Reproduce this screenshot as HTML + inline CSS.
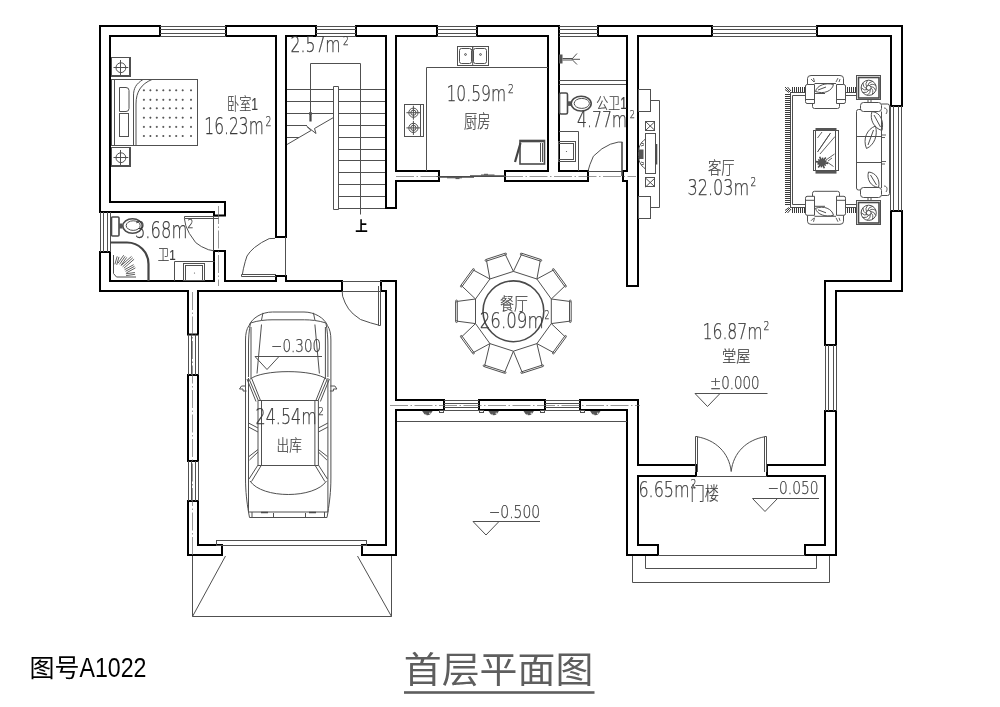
<!DOCTYPE html>
<html lang="zh-CN">
<head>
<meta charset="utf-8">
<title>首层平面图 图号A1022</title>
<style>
html,body{margin:0;padding:0;background:#fff;}
body{width:1000px;height:707px;overflow:hidden;}
svg{display:block;}
.w{fill:none;stroke:#000;stroke-width:2;stroke-linecap:square;stroke-linejoin:miter;}
.t{fill:none;stroke:#505050;stroke-width:1;}
.t2{fill:none;stroke:#4a4a4a;stroke-width:1.6;}
.h{fill:none;stroke:#555;stroke-width:0.7;}
.fr{fill:none;stroke:#3a3a3a;stroke-width:1;}
.h2{fill:none;stroke:#444;stroke-width:0.85;}
.t3{fill:none;stroke:#444;stroke-width:2.2;}
.f{fill:#555;stroke:none;}
.cl{fill:none;stroke:#6a6a6a;stroke-width:0.7;stroke-dasharray:18 2.5 1.5 2.5;}
svg{filter:grayscale(1);}
text{font-family:"Liberation Sans","Noto Sans CJK SC",sans-serif;}
.lb{fill:#3c3c3c;stroke:#3c3c3c;stroke-width:0.25;font-family:"DejaVu Sans","Noto Sans CJK SC",sans-serif;font-weight:200;}
.cj{fill:#3c3c3c;stroke:#3c3c3c;stroke-width:0.2;font-family:"Liberation Sans","Noto Sans CJK SC",sans-serif;font-weight:300;}
.bk{fill:#000;font-family:"Liberation Sans","Noto Sans CJK SC",sans-serif;font-weight:700;}
.bk2{fill:#000;font-family:"Liberation Sans","Noto Sans CJK SC",sans-serif;font-weight:400;}
.ul{fill:#5e5e5e;stroke:none;}
.tt{fill:#5e5e5e;font-family:"Liberation Sans","Noto Sans CJK SC",sans-serif;font-weight:400;}
</style>
</head>
<body>
<svg width="1000" height="707" viewBox="0 0 1000 707">
<rect x="0" y="0" width="1000" height="707" fill="#fff"/>
<g id="walls">
<path class="w" d="M100 212 L100 26 L160 26 L160 36 L110 36 L110 202 L225 202 L225 215.5 L214 215.5 L214 212 L100 212"/>
<path class="w" d="M226 36 L226 26 L316 26 L316 36 L286 36 L286 237 L276 237 L276 36 L226 36"/>
<path class="w" d="M356 36 L356 26 L437 26 L437 36 L396 36 L396 171 L439 171 L439 181 L396 181 L396 208 L386 208 L386 36 L356 36"/>
<path class="w" d="M477 36 L477 26 L559 26 L559 171 L588 171 L588 181 L505 181 L505 171 L548 171 L548 36 L477 36"/>
<path class="w" d="M598 36 L598 26 L712 26 L712 36 L638 36 L638 286 L627 286 L627 181 L623 181 L623 171 L627 171 L627 36 L598 36"/>
<path class="w" d="M817 36 L817 26 L902 26 L902 106 L891 106 L891 36 L817 36"/>
<path class="w" d="M891 211 L902 211 L902 291 L836 291 L836 345 L825 345 L825 281 L891 281 L891 211"/>
<path class="w" d="M825 411 L836 411 L836 555 L805 555 L805 545 L825 545 L825 476 L767 476 L767 465 L825 465 L825 411"/>
<path class="w" d="M580 400 L638 400 L638 465 L696 465 L696 476 L638 476 L638 545 L658 545 L658 555 L627 555 L627 410 L580 410 L580 400"/>
<path class="w" d="M479 400 L545 400 L545 410 L479 410 L479 400"/>
<path class="w" d="M381 291 L381 281 L396 281 L396 400 L444 400 L444 410 L396 410 L396 555 L362 555 L362 545 L386 545 L386 291 L381 291"/>
<path class="w" d="M100 252 L110 252 L110 281 L214 281 L214 251 L225 251 L225 281 L276 281 L276 276 L286 276 L286 281 L342 281 L342 291 L198 291 L198 334.5 L188 334.5 L188 291 L100 291 L100 252"/>
<path class="w" d="M188 375 L198 375 L198 461 L188 461 L188 375"/>
<path class="w" d="M188 501 L198 501 L198 545 L222 545 L222 555 L188 555 L188 501"/>
</g>
<g id="windows">
<path class="t" d="M160 26.5 L226 26.5"/>
<path class="t" d="M160 29.5 L226 29.5"/>
<path class="t" d="M160 33.5 L226 33.5"/>
<path class="t" d="M160 36.5 L226 36.5"/>
<path class="t" d="M316 26.5 L356 26.5"/>
<path class="t" d="M316 29.5 L356 29.5"/>
<path class="t" d="M316 33.5 L356 33.5"/>
<path class="t" d="M316 36.5 L356 36.5"/>
<path class="t" d="M437 26.5 L477 26.5"/>
<path class="t" d="M437 29.5 L477 29.5"/>
<path class="t" d="M437 33.5 L477 33.5"/>
<path class="t" d="M437 36.5 L477 36.5"/>
<path class="t" d="M559 26.5 L598 26.5"/>
<path class="t" d="M559 29.5 L598 29.5"/>
<path class="t" d="M559 33.5 L598 33.5"/>
<path class="t" d="M559 36.5 L598 36.5"/>
<path class="t" d="M712 26.5 L817 26.5"/>
<path class="t" d="M712 29.5 L817 29.5"/>
<path class="t" d="M712 33.5 L817 33.5"/>
<path class="t" d="M712 36.5 L817 36.5"/>
<path class="t" d="M444 400.5 L479 400.5"/>
<path class="t" d="M444 403.5 L479 403.5"/>
<path class="t" d="M444 407.5 L479 407.5"/>
<path class="t" d="M444 410.5 L479 410.5"/>
<path class="t" d="M545 400.5 L580 400.5"/>
<path class="t" d="M545 403.5 L580 403.5"/>
<path class="t" d="M545 407.5 L580 407.5"/>
<path class="t" d="M545 410.5 L580 410.5"/>
<path class="t" d="M100.5 212 L100.5 252"/>
<path class="t" d="M103.5 212 L103.5 252"/>
<path class="t" d="M107.5 212 L107.5 252"/>
<path class="t" d="M110.5 212 L110.5 252"/>
<path class="t" d="M188.5 334.5 L188.5 375"/>
<path class="t" d="M191.5 334.5 L191.5 375"/>
<path class="t" d="M195.5 334.5 L195.5 375"/>
<path class="t" d="M198.5 334.5 L198.5 375"/>
<path class="t" d="M188.5 461 L188.5 501"/>
<path class="t" d="M191.5 461 L191.5 501"/>
<path class="t" d="M195.5 461 L195.5 501"/>
<path class="t" d="M198.5 461 L198.5 501"/>
<path class="t" d="M890.5 106 L890.5 211"/>
<path class="t" d="M893.5 106 L893.5 211"/>
<path class="t" d="M898.5 106 L898.5 211"/>
<path class="t" d="M901.5 106 L901.5 211"/>
<path class="t" d="M825.5 345 L825.5 411"/>
<path class="t" d="M828.5 345 L828.5 411"/>
<path class="t" d="M833.5 345 L833.5 411"/>
<path class="t" d="M836.5 345 L836.5 411"/>
</g>
<g id="thin-arch">
<path class="cl" d="M396 176.5 L439 176.5"/>
<path class="cl" d="M505 176.5 L636 176.5"/>
<path class="cl" d="M390 405.5 L640 405.5"/>
<path class="cl" d="M192.5 292 L192.5 555"/>
<path class="cl" d="M218.5 206 L218.5 286"/>
<path class="t" d="M285.5 237 L285.5 276"/>
<path class="t" d="M342 281.5 L382 281.5"/>
<path class="t" d="M588 171.5 L622 171.5"/>
<path class="t" d="M696 476.5 L767 476.5"/>
<path class="t" d="M658 555.5 L805 555.5"/>
<path class="t" d="M397 421.5 L627 421.5"/>
<path class="t" d="M632.5 556 L632.5 582.5 L829.5 582.5 L829.5 556"/>
<path class="t" d="M645.5 556 L645.5 568.5 L816.5 568.5 L816.5 556"/>
<rect class="t" x="216.5" y="540.5" width="150" height="5"/>
<path class="t" d="M192.5 556 L192.5 616.5 L391.5 616.5 L391.5 556"/>
<path class="t" d="M225.5 556 L192.5 616.5"/>
<path class="t" d="M357.5 556 L391.5 616.5"/>
</g>
<g id="doors">
<path class="t" d="M241.5 274.5 H276 M241.5 276.5 H276 M241.5 274.5 V276.5"/>
<path class="t" d="M242.4 274.3 L243.4 268.8 L245.2 261.7 L247 256 L250.1 251.8 L254.4 247.6 L261.5 242.6 L269.2 238.6 L275 238.4"/>
<path class="t" d="M184.5 216.5 H218.5 M184.5 218.5 H218.5 M184.5 216.5 V218.5"/>
<path class="t" d="M213.5 216 L213.5 251"/>
<path class="t" d="M184.4 218.6 L185.8 225.7 L189.3 233.4 L195.7 242.6 L201.3 246.5 L208.4 249.7 L213.7 250.8"/>
<path class="t" d="M378.5 286 V325.5 H380.5 V286"/>
<path class="t" d="M342 291.5 L381 291.5"/>
<path class="t" d="M342.2 291.1 L342.6 296.2 L345.2 303 L348.6 308.9 L353.2 314 L360.5 319.5 L370.6 322.9 L378.7 325.1"/>
<path class="t2" d="M622 142 V176"/>
<path class="t" d="M588.1 170.7 L589.9 164.7 L593.4 156.2 L601.9 148.8 L610.4 144.2 L618.2 142.1 L622.4 142.1"/>
<path class="t" d="M695.5 436.5 V472 M697.5 436.5 V472 M695.5 436.5 H697.5"/>
<path class="t" d="M766.5 436.5 V472 M764.5 436.5 V472 M764.5 436.5 H766.5"/>
<path class="t" d="M697.5 436.8 C715 440 729 452 731.2 471.5"/>
<path class="t" d="M764.5 436.8 C747 440 733.4 452 731.2 471.5"/>
</g>
<g id="stairs">
<path class="t" d="M287 89.5 L333.5 89.5"/>
<path class="t" d="M338.5 89.5 L385 89.5"/>
<path class="t" d="M287 101.5 L333.5 101.5"/>
<path class="t" d="M338.5 101.5 L385 101.5"/>
<path class="t" d="M287 113.5 L333.5 113.5"/>
<path class="t" d="M338.5 113.5 L385 113.5"/>
<path class="t" d="M338.5 125.5 L385 125.5"/>
<path class="t" d="M338.5 137.5 L385 137.5"/>
<path class="t" d="M338.5 149.5 L385 149.5"/>
<path class="t" d="M338.5 160.5 L385 160.5"/>
<path class="t" d="M338.5 172.5 L385 172.5"/>
<path class="t" d="M338.5 184.5 L385 184.5"/>
<path class="t" d="M338.5 196.5 L385 196.5"/>
<path class="t" d="M338.5 208.5 L385 208.5"/>
<path class="t" d="M287 125.5 L307 125.5"/>
<path class="t" d="M287 137.5 L299 137.5"/>
<path class="t" d="M333.5 86.5 L338.5 86.5 L338.5 209.5 L333.5 209.5 Z"/>
<path class="t" d="M310.5 113.5 V63.5 H360.5 V214.5"/>
<path class="t3" d="M310.5 113 V121.5"/>
<circle class="f" cx="310.5" cy="113.5" r="1.7"/>
<path class="t" d="M287 144.5 L311 130.5 L307 126.5 L316 133.5 L314.5 128.5 L333.5 117.5"/>
</g>
<g id="bedroom">
<rect class="t" x="111.5" y="57.5" width="19" height="19"/>
<path class="t" d="M111.5 75.5 L130.5 75.5"/>
<path class="t" d="M129.5 57.5 L129.5 77"/>
<circle class="t" cx="120.9" cy="67.7" r="4.9"/>
<path class="t" d="M113.5 67.5 L128.3 67.5"/>
<path class="t" d="M120.5 60 L120.5 75.5"/>
<rect class="t" x="111.5" y="147.5" width="19" height="19"/>
<path class="t" d="M111.5 165.5 L130.5 165.5"/>
<path class="t" d="M129.5 147.5 L129.5 167"/>
<circle class="t" cx="120.9" cy="157.7" r="4.9"/>
<path class="t" d="M113.5 157.5 L128.3 157.5"/>
<path class="t" d="M120.5 150 L120.5 165.5"/>
<rect class="t" x="111.5" y="79.5" width="86" height="66"/>
<path class="t" d="M114.5 79.5 L114.5 145.5"/>
<path class="t" d="M119.5 87.5 H126 Q129 87.5 129 90.5 V108.5 Q129 111.5 126 111.5 H119.5 Z"/>
<rect class="t" x="119.5" y="113.5" width="9" height="23"/>
<path class="t" d="M143 79.5 C136 84 133.5 88 133.5 96 V145.5"/>
<path class="t" d="M152 79.5 C141 84 136 92 136 104 V145.5"/>
<path class="t" d="M142.9 90.3h2M143.9 89.3v2M149.4 90.3h2M150.4 89.3v2M155.8 90.3h2M156.8 89.3v2M162.3 90.3h2M163.3 89.3v2M168.8 90.3h2M169.8 89.3v2M175.2 90.3h2M176.2 89.3v2M181.7 90.3h2M182.7 89.3v2M190 90.3h2M191 89.3v2M142.9 99.8h2M143.9 98.8v2M149.4 99.8h2M150.4 98.8v2M155.8 99.8h2M156.8 98.8v2M162.3 99.8h2M163.3 98.8v2M168.8 99.8h2M169.8 98.8v2M175.2 99.8h2M176.2 98.8v2M181.7 99.8h2M182.7 98.8v2M190 99.8h2M191 98.8v2M142.9 108.3h2M143.9 107.3v2M149.4 108.3h2M150.4 107.3v2M155.8 108.3h2M156.8 107.3v2M162.3 108.3h2M163.3 107.3v2M168.8 108.3h2M169.8 107.3v2M175.2 108.3h2M176.2 107.3v2M181.7 108.3h2M182.7 107.3v2M190 108.3h2M191 107.3v2M142.9 117.7h2M143.9 116.7v2M149.4 117.7h2M150.4 116.7v2M155.8 117.7h2M156.8 116.7v2M162.3 117.7h2M163.3 116.7v2M168.8 117.7h2M169.8 116.7v2M175.2 117.7h2M176.2 116.7v2M181.7 117.7h2M182.7 116.7v2M190 117.7h2M191 116.7v2M142.9 126.9h2M143.9 125.9v2M149.4 126.9h2M150.4 125.9v2M155.8 126.9h2M156.8 125.9v2M162.3 126.9h2M163.3 125.9v2M168.8 126.9h2M169.8 125.9v2M175.2 126.9h2M176.2 125.9v2M181.7 126.9h2M182.7 125.9v2M190 126.9h2M191 125.9v2M142.9 136h2M143.9 135v2M149.4 136h2M150.4 135v2M155.8 136h2M156.8 135v2M162.3 136h2M163.3 135v2M168.8 136h2M169.8 135v2M175.2 136h2M176.2 135v2M181.7 136h2M182.7 135v2M190 136h2M191 135v2"/>
</g>
<g id="bath1">
<rect class="t2" x="111.5" y="217" width="7.5" height="19" rx="1"/>
<rect class="f" x="119" y="223.5" width="3.5" height="5"/>
<ellipse class="t2" cx="132.5" cy="226" rx="9.7" ry="7.3"/>
<ellipse class="t" cx="133.2" cy="225.6" rx="7" ry="4.8"/>
<path class="t3" d="M110 242.5 H127 A21.5 21.5 0 0 1 148.5 264 V281"/>
<path class="t" d="M113.5 255 V273.5 L116.5 277 H136"/>
<path class="h2" d="M114.9 264.3L117.2 256.3M116.7 264.9L119.0 256.9M118.0 263.2L123.7 255.2M119.5 264.3L125.2 256.3M121.0 265.4L126.7 257.4M121.3 265.4L131.5 256.4M122.6 266.8L132.8 257.8M123.9 268.2L134.1 259.2M124.6 269.7L133.6 264.7M125.5 271.3L134.5 266.3M126.4 272.9L135.4 267.9M125.9 273.8L134.9 272.5M126.1 275.6L135.1 274.3"/>
<path class="t" d="M174.5 281 V261.5 H214.5"/>
<rect class="t" x="183.5" y="263.5" width="21" height="17"/>
<rect class="t" x="185.5" y="265.5" width="17" height="15"/>
<circle class="f" cx="194.5" cy="273" r="0.6"/>
</g>
<g id="kitchen">
<path class="t" d="M426.5 171 V67.5 H548"/>
<rect class="t" x="457.5" y="46.5" width="31" height="19"/>
<rect class="t" x="459.5" y="48.5" width="12" height="15" rx="2"/>
<rect class="t" x="473.5" y="48.5" width="13" height="15" rx="2"/>
<circle class="t" cx="465.5" cy="54.5" r="0.9"/>
<circle class="t" cx="480.5" cy="54.5" r="0.9"/>
<path class="t" d="M472.7 46.5 V65.5 M471 49 L474 52 M472.7 47 V51"/>
<rect class="t" x="404.5" y="104.5" width="19" height="32"/>
<path class="t" d="M420.5 104.5 L420.5 136.5"/>
<circle class="t" cx="413.4" cy="112.7" r="4.6"/>
<circle class="t" cx="413.4" cy="112.7" r="2.6"/>
<path class="t" d="M406.4 112.7H420.4M413.4 105.7V119.7"/>
<circle class="t" cx="413.4" cy="127.9" r="4.6"/>
<circle class="t" cx="413.4" cy="127.9" r="2.6"/>
<path class="t" d="M406.4 127.9H420.4M413.4 120.9V134.9"/>
<rect class="t2" x="520" y="140.5" width="24.5" height="23.5"/>
<path class="t2" d="M520 141.5 L544.5 141.5"/>
<path class="t" d="M540.5 143 V162 M542.5 143 V162"/>
<path class="t3" d="M520.5 143 L515 162"/>
</g>
<g id="bath2">
<rect class="f" x="559" y="54.5" width="3.5" height="9"/>
<path class="t" d="M562.5 58.5 H572 M562.5 60 H572"/>
<path class="t" d="M572 59 L577 53.5 M572 59.3 H580 M572 59.5 L577 64.5"/>
<path class="t" d="M559 80.5 L626 80.5"/>
<path class="t" d="M559 84.5 L626 84.5"/>
<rect class="t2" x="559.5" y="93" width="8" height="21" rx="1.5"/>
<rect class="f" x="567.5" y="101.3" width="3.5" height="4.6"/>
<ellipse class="t2" cx="581.2" cy="103.6" rx="10" ry="7.4"/>
<ellipse class="t" cx="581.8" cy="103.4" rx="7.6" ry="5"/>
<path class="t" d="M559 131.5 H578.5 V171"/>
<rect class="t" x="558.5" y="141.5" width="17" height="20"/>
<rect class="t" x="558.5" y="143.5" width="15" height="16"/>
<circle class="f" cx="566.5" cy="151.5" r="0.6"/>
</g>
<g id="living">
<rect class="t" x="638.5" y="89.5" width="12" height="22"/>
<rect class="t" x="638.5" y="196.5" width="12" height="22"/>
<path class="t" d="M650.5 100.5 H659.5 V207.5 H650.5"/>
<rect class="t" x="645.5" y="121.5" width="9" height="9"/>
<path class="t" d="M645.5 121.5L655 130.5M655 121.5L645.5 130.5"/>
<rect class="t" x="645.5" y="177.5" width="9" height="9"/>
<path class="t" d="M645.5 178L655 187M655 178L645.5 187"/>
<rect class="t" x="645.5" y="133.5" width="10" height="40"/>
<rect class="f" x="639" y="149.5" width="4.5" height="9.5"/>
<path class="t" d="M645.5 139 C640 143 638.5 147 638.5 154 C638.5 161 640 165 645.5 169"/>
<path class="h2" d="M641 143 l3 1 M641 146 l3 -1 M641 162 l3 1 M641 165 l3 -1"/>
<path class="t2" d="M656.5 144 L656.5 164.5"/>
<path class="t" d="M806 92.5 H790.5 V207.5 H806 M845.5 92.5 H856.5 M845.5 207.5 H856.5"/>
<path class="t" d="M806 95.5 H792.5 V204.5 H806 M845.5 95.5 H856.5 M845.5 204.5 H856.5"/>
<path class="fr" d="M785 94.5H790.5M785 96.5H790.5M785 98.5H790.5M785 100.5H790.5M785 102.5H790.5M785 104.5H790.5M785 106.5H790.5M785 108.5H790.5M785 110.5H790.5M785 112.5H790.5M785 114.5H790.5M785 116.5H790.5M785 118.5H790.5M785 120.5H790.5M785 122.5H790.5M785 124.5H790.5M785 126.5H790.5M785 128.5H790.5M785 130.5H790.5M785 132.5H790.5M785 134.5H790.5M785 136.5H790.5M785 138.5H790.5M785 140.5H790.5M785 142.5H790.5M785 144.5H790.5M785 146.5H790.5M785 148.5H790.5M785 150.5H790.5M785 152.5H790.5M785 154.5H790.5M785 156.5H790.5M785 158.5H790.5M785 160.5H790.5M785 162.5H790.5M785 164.5H790.5M785 166.5H790.5M785 168.5H790.5M785 170.5H790.5M785 172.5H790.5M785 174.5H790.5M785 176.5H790.5M785 178.5H790.5M785 180.5H790.5M785 182.5H790.5M785 184.5H790.5M785 186.5H790.5M785 188.5H790.5M785 190.5H790.5M785 192.5H790.5M785 194.5H790.5M785 196.5H790.5M785 198.5H790.5M785 200.5H790.5M785 202.5H790.5M785 204.5H790.5M792.5 87V92.5M792.5 207.5V213M794.5 87V92.5M794.5 207.5V213M796.5 87V92.5M796.5 207.5V213M798.5 87V92.5M798.5 207.5V213M800.5 87V92.5M800.5 207.5V213M802.5 87V92.5M802.5 207.5V213M804.5 87V92.5M804.5 207.5V213M847.5 87V92.5M847.5 207.5V213M849.5 87V92.5M849.5 207.5V213M851.5 87V92.5M851.5 207.5V213M853.5 87V92.5M853.5 207.5V213M855.5 87V92.5M855.5 207.5V213M785 87L790.5 92.5M787.5 87L791 91M785 89.5L789 92.5M785 213L790.5 207.5M787.5 213L791 209M785 210.5L789 207.5"/>
<g>
<path class="t" d="M807.5 84.5 V78.5 Q807.5 75.5 811 75.5 H840 Q843.5 75.5 843.5 78.5 V84.5"/>
<path class="t" d="M814.5 83.5 L836 83.5"/>
<path class="t" d="M814.5 84.5 V103.5 H807 Q805.5 103.5 805.5 101.5 V86 Q805.5 84.5 807.5 84.5 H814.5 M805.5 99.5 H814.5"/>
<path class="t" d="M836.5 84.5 V103.5 H844 Q845.5 103.5 845.5 101.5 V86 Q845.5 84.5 843.5 84.5 H836.5 M836.5 99.5 H845.5"/>
<path class="t" d="M812.5 103.5 V106.5 Q812.5 108.5 814.5 108.5 H837.5 Q839.5 108.5 839.5 106.5 V103.5"/>
<path class="t" d="M814.5 93.5 L825 93.5"/>
<path class="t" d="M815.5 91.5 C817 85 826 82.5 833.5 84.5 C832 91 824 94.5 815.5 91.5 Z M818 90 L826 87"/>
<path class="h2" d="M811 79 l3 3 M813.5 78 l1 4 M838 78 l-2 4 M840 79 l-1 3"/>
</g>
<g transform="translate(0 299.8) scale(1 -1)">
<path class="t" d="M807.5 84.5 V78.5 Q807.5 75.5 811 75.5 H840 Q843.5 75.5 843.5 78.5 V84.5"/>
<path class="t" d="M814.5 83.5 L836 83.5"/>
<path class="t" d="M814.5 84.5 V103.5 H807 Q805.5 103.5 805.5 101.5 V86 Q805.5 84.5 807.5 84.5 H814.5 M805.5 99.5 H814.5"/>
<path class="t" d="M836.5 84.5 V103.5 H844 Q845.5 103.5 845.5 101.5 V86 Q845.5 84.5 843.5 84.5 H836.5 M836.5 99.5 H845.5"/>
<path class="t" d="M812.5 103.5 V106.5 Q812.5 108.5 814.5 108.5 H837.5 Q839.5 108.5 839.5 106.5 V103.5"/>
<path class="t" d="M814.5 93.5 L825 93.5"/>
<path class="t" d="M815.5 91.5 C817 85 826 82.5 833.5 84.5 C832 91 824 94.5 815.5 91.5 Z M818 90 L826 87"/>
<path class="h2" d="M811 79 l3 3 M813.5 78 l1 4 M838 78 l-2 4 M840 79 l-1 3"/>
</g>
<rect class="t" x="856.5" y="75.5" width="24" height="24"/>
<rect class="t2" x="858.5" y="77.5" width="20.5" height="20.5"/>
<circle class="t" cx="868.7" cy="87.8" r="7.6"/>
<circle class="t" cx="868.7" cy="87.8" r="2.4"/>
<path class="h2" d="M871.1 88.2Q873.8 89.8 872.3 94.5M870.2 89.6Q871.3 92.6 867.2 95.2M868.7 90.2Q867.6 93.2 862.7 92.5M867.2 89.6Q864.4 91.2 861.1 87.6M866.3 88.2Q863.2 87.7 863.0 82.8M866.6 86.6Q864.6 84.2 867.6 80.3M867.9 85.5Q867.9 82.4 872.7 81.3M869.5 85.5Q871.6 83.1 875.9 85.4M870.8 86.6Q873.9 86.1 875.8 90.6"/>
<rect class="t" x="856.5" y="200.5" width="24" height="24"/>
<rect class="t2" x="858.5" y="202.5" width="20.5" height="20.5"/>
<circle class="t" cx="868.7" cy="212.8" r="7.6"/>
<circle class="t" cx="868.7" cy="212.8" r="2.4"/>
<path class="h2" d="M871.1 213.2Q873.8 214.8 872.3 219.5M870.2 214.6Q871.3 217.6 867.2 220.2M868.7 215.2Q867.6 218.2 862.7 217.5M867.2 214.6Q864.4 216.2 861.1 212.6M866.3 213.2Q863.2 212.7 863.0 207.8M866.6 211.6Q864.6 209.2 867.6 205.3M867.9 210.5Q867.9 207.4 872.7 206.3M869.5 210.5Q871.6 208.1 875.9 210.4M870.8 211.6Q873.9 211.1 875.8 215.6"/>
<path class="t" d="M868 100 V102.5 M871 100 V102.5"/>
<path class="t" d="M868 200.5 V197.5 M871 200.5 V197.5"/>
<path class="t" d="M861 109.5 H858.5 Q856.5 109.5 856.5 111.5 V188 Q856.5 190 858.5 190 H861"/>
<path class="t" d="M856.5 136.5 L881.5 136.5"/>
<path class="t" d="M856.5 162.5 L881.5 162.5"/>
<path class="t" d="M881.5 104 H887.5 Q889.5 104 889.5 106 V193.5 Q889.5 195.5 887.5 195.5 H881.5"/>
<path class="t" d="M881.5 111.5 L881.5 188"/>
<rect class="t" x="860.5" y="102.5" width="21" height="9" rx="3"/>
<rect class="t" x="860.5" y="187.5" width="21" height="10" rx="3"/>
<path class="t" d="M872 111.5 C881 112.5 884 122 882 130.5 C873.5 128 869.5 119 872 111.5 Z M874 115 L880.5 127"/>
<path class="t" d="M875.5 126 C867 129 862.5 139 866.5 148.5 C874.5 145 878 135 875.5 126 Z M873.5 130 L868 145"/>
<path class="t" d="M868.5 172 C876 172.5 880.5 180 878.5 187.5 C870.5 186.5 866.5 179 868.5 172 Z M870.5 175 L876.5 185"/>
<path class="h2" d="M884 108 C887 108 888 111 886 114 M884 186 C887 186 888 189 886 192"/>
<path class="h2" d="M882 135 h4 M882 137.5 h3 M882 161.5 h4 M882 164 h3"/>
<rect class="t" x="813.5" y="130.5" width="25" height="40"/>
<rect class="t" x="815.5" y="130.5" width="20" height="40"/>
<rect class="f" x="815.5" y="128" width="21" height="2.6"/>
<rect class="f" x="815.5" y="171" width="21" height="2.6"/>
<path class="h2" d="M817.5 138 L822 132 M817.5 152 L830.5 133 M820 154 L835 136.5"/>
<path class="h2" d="M817.8 151.5 L830.2 133.5"/>
<circle class="f" cx="822" cy="162.5" r="3.4"/>
<path class="t2" d="M825.0 162.9L828.1 163.4M824.4 164.3L825.8 165.5M823.1 165.3L824.3 168.2M821.6 165.5L821.3 167.3M820.2 164.9L818.2 167.4M819.2 163.6L817.5 164.3M819.0 162.1L815.9 161.6M819.6 160.7L818.2 159.5M820.9 159.7L819.7 156.8M822.4 159.5L822.7 157.7M823.8 160.1L825.8 157.6M824.8 161.4L826.5 160.7"/>
<path class="h2" d="M826 160 L834.5 154 M827 162 L833.5 166.5 M828 161 L832 158"/>
</g>
<g id="dining">
<circle class="t2" cx="513.4" cy="311.3" r="30.4"/>
<path class="t" d="M551.3 299.0L569.5 301.4L569.5 321.2L551.3 323.6Z"/>
<path class="t" d="M571.2 301.4L571.2 321.2"/>
<circle class="h2" cx="570.269" cy="300.965" r="0.9"/>
<circle class="h2" cx="570.269" cy="321.635" r="0.9"/>
<path class="t" d="M536.9 279.0L553.0 270.3L564.6 286.3L551.3 299.0Z"/>
<path class="t" d="M554.3 269.4L565.9 285.3"/>
<circle class="h2" cx="553.333" cy="269.512" r="0.9"/>
<circle class="h2" cx="565.482" cy="286.235" r="0.9"/>
<path class="t" d="M513.4 271.4L521.3 254.9L540.2 261.0L536.9 279.0Z"/>
<path class="t" d="M521.9 253.3L540.6 259.4"/>
<circle class="h2" cx="521.144" cy="254.021" r="0.9"/>
<circle class="h2" cx="540.802" cy="260.408" r="0.9"/>
<path class="t" d="M489.9 279.0L486.6 261.0L505.5 254.9L513.4 271.4Z"/>
<path class="t" d="M486.2 259.4L504.9 253.3"/>
<circle class="h2" cx="485.998" cy="260.408" r="0.9"/>
<circle class="h2" cx="505.656" cy="254.021" r="0.9"/>
<path class="t" d="M475.5 299.0L462.2 286.3L473.8 270.3L489.9 279.0Z"/>
<path class="t" d="M460.9 285.3L472.5 269.4"/>
<circle class="h2" cx="461.318" cy="286.235" r="0.9"/>
<circle class="h2" cx="473.467" cy="269.512" r="0.9"/>
<path class="t" d="M475.5 323.6L457.3 321.2L457.3 301.4L475.5 299.0Z"/>
<path class="t" d="M455.6 321.2L455.6 301.4"/>
<circle class="h2" cx="456.531" cy="321.635" r="0.9"/>
<circle class="h2" cx="456.531" cy="300.965" r="0.9"/>
<path class="t" d="M489.9 343.6L473.8 352.3L462.2 336.3L475.5 323.6Z"/>
<path class="t" d="M472.5 353.2L460.9 337.3"/>
<circle class="h2" cx="473.467" cy="353.088" r="0.9"/>
<circle class="h2" cx="461.318" cy="336.365" r="0.9"/>
<path class="t" d="M513.4 351.2L504.9 371.7L484.8 365.2L489.9 343.6Z"/>
<path class="t" d="M504.4 373.2L484.3 366.7"/>
<circle class="h2" cx="505.12" cy="372.543" r="0.9"/>
<circle class="h2" cx="484.101" cy="365.714" r="0.9"/>
<path class="t" d="M536.9 343.6L542.0 365.2L521.9 371.7L513.4 351.2Z"/>
<path class="t" d="M542.5 366.7L522.4 373.2"/>
<circle class="h2" cx="542.699" cy="365.714" r="0.9"/>
<circle class="h2" cx="521.68" cy="372.543" r="0.9"/>
<path class="t" d="M551.3 323.6L564.6 336.3L553.0 352.3L536.9 343.6Z"/>
<path class="t" d="M565.9 337.3L554.3 353.2"/>
<circle class="h2" cx="565.482" cy="336.365" r="0.9"/>
<circle class="h2" cx="553.333" cy="353.088" r="0.9"/>
</g>
<g id="lamps">
<path class="f" d="M422.2 411 H432.6 L430.6 414 Q427.4 416.5 424.2 414 Z"/>
<circle cx="429.9" cy="413.2" r="0.7" fill="#fff"/><circle cx="425.9" cy="414.2" r="0.5" fill="#fff"/>
<path class="f" d="M488.5 411 H498.9 L496.9 414 Q493.7 416.5 490.5 414 Z"/>
<circle cx="496.2" cy="413.2" r="0.7" fill="#fff"/><circle cx="492.2" cy="414.2" r="0.5" fill="#fff"/>
<path class="f" d="M523.5 411 H533.9 L531.9 414 Q528.7 416.5 525.5 414 Z"/>
<circle cx="531.2" cy="413.2" r="0.7" fill="#fff"/><circle cx="527.2" cy="414.2" r="0.5" fill="#fff"/>
<path class="f" d="M590.1 411 H600.5 L598.5 414 Q595.3 416.5 592.1 414 Z"/>
<circle cx="597.8" cy="413.2" r="0.7" fill="#fff"/><circle cx="593.8" cy="414.2" r="0.5" fill="#fff"/>
<rect class="t" x="439.5" y="410.5" width="4" height="2"/>
<rect class="t" x="479.5" y="410.5" width="4" height="2"/>
<rect class="t" x="540.5" y="410.5" width="4" height="2"/>
<rect class="t" x="580.5" y="410.5" width="4" height="2"/>
</g>
<g id="elev">
<path class="t" d="M255 356.5H322M255 356.5L267 369.5L279 356.5"/>
<path class="t" d="M695 393.5H767.5M695 393.5L707.5 406.5L720 393.5"/>
<path class="t" d="M752.5 498.5H819M752.5 498.5L765 511.5L777.5 498.5"/>
<path class="t" d="M473 521.5H540M473 521.5L486 535L499 521.5"/>
</g>
<g id="car">
<path class="t" d="M249 325.5 C252 318 262 312 272.5 312 H304 C314.5 312 324.5 318 327.5 325.5"/>
<path class="t" d="M250.5 323 C258 320.5 266 319.8 272 319.8 H304.5 C310.5 319.8 318.5 320.5 326 323"/>
<path class="t" d="M249 325.5 C246.5 329 245.5 334 245.5 340 V478 C245.5 492 247 503 248.5 512"/>
<path class="t" transform="translate(576.4 0) scale(-1 1)" d="M249 325.5 C246.5 329 245.5 334 245.5 340 V478 C245.5 492 247 503 248.5 512"/>
<path class="t" d="M250.5 323 C249 330 248.5 338 248.5 346 V377"/>
<path class="t" transform="translate(576.4 0) scale(-1 1)" d="M250.5 323 C249 330 248.5 338 248.5 346 V377"/>
<path class="t" d="M251 327 V378"/>
<path class="t" transform="translate(576.4 0) scale(-1 1)" d="M251 327 V378"/>
<path class="t" d="M263 312.8 L261.5 320 M261.5 324.5 L257 373.5"/>
<path class="t" transform="translate(576.4 0) scale(-1 1)" d="M263 312.8 L261.5 320 M261.5 324.5 L257 373.5"/>
<path class="t" d="M249.5 379.5 C262 369 314 369 327 379.5"/>
<path class="t" d="M249.5 380 L258.5 401 M251.5 378 L260.5 400.5 M247 379 L256 401.5"/>
<path class="t" transform="translate(576.4 0) scale(-1 1)" d="M249.5 380 L258.5 401 M251.5 378 L260.5 400.5 M247 379 L256 401.5"/>
<path class="t" d="M258.5 400.5 L318 400.5"/>
<path class="t" d="M246 386 H241.5 L239.5 389 H243 V391 H246.5"/>
<path class="t" transform="translate(576.4 0) scale(-1 1)" d="M246 386 H241.5 L239.5 389 H243 V391 H246.5"/>
<path class="t" d="M258 400.5 V465 M261.5 400.5 V465"/>
<path class="t" transform="translate(576.4 0) scale(-1 1)" d="M258 400.5 V465 M261.5 400.5 V465"/>
<path class="t" d="M258 465.5 L318.5 465.5"/>
<path class="t" d="M248.5 423 L258 428 M248.5 427 L258 432"/>
<path class="t" transform="translate(576.4 0) scale(-1 1)" d="M248.5 423 L258 428 M248.5 427 L258 432"/>
<path class="t" d="M249 456.5 L258 449.5 M258 452 L249.5 460"/>
<path class="t" transform="translate(576.4 0) scale(-1 1)" d="M249 456.5 L258 449.5 M258 452 L249.5 460"/>
<path class="t" d="M261.5 465 L251.5 481.5 M258 465 L249 479"/>
<path class="t" transform="translate(576.4 0) scale(-1 1)" d="M261.5 465 L251.5 481.5 M258 465 L249 479"/>
<path class="t" d="M248.5 378 V512"/>
<path class="t" transform="translate(576.4 0) scale(-1 1)" d="M248.5 378 V512"/>
<path class="t" d="M250 481 C262 499 314.5 499 326.5 481"/>
<path class="t" d="M248.5 512 H328 M248.5 512 L249.5 517.5 H327 L328 512 M252 512 V517.5 M324.5 512 V517.5 M273.5 513 V517.5 M305.5 513 V517.5"/>
<path class="t2" d="M261 512.5 H268 M309 512.5 H316"/>
</g>
<g id="labels">
<text class="lb" x="204.366" y="134" font-size="22.6337" textLength="59.358" lengthAdjust="spacingAndGlyphs">16.23m</text>
<text class="lb" x="265.5" y="126" font-size="13.7174" textLength="6" lengthAdjust="spacingAndGlyphs">2</text>
<text class="cj" x="227.1" y="109.783" font-size="17.3913" textLength="30.9" lengthAdjust="spacingAndGlyphs">卧室1</text>
<text class="lb" x="290.424" y="52" font-size="20.5761" textLength="50.2346" lengthAdjust="spacingAndGlyphs">2.57m</text>
<text class="lb" x="343.1" y="45" font-size="12.3457" textLength="5.8" lengthAdjust="spacingAndGlyphs">2</text>
<text class="lb" x="446.385" y="101.4" font-size="21.9479" textLength="59.7169" lengthAdjust="spacingAndGlyphs">10.59m</text>
<text class="lb" x="508.1" y="93.4" font-size="12.0713" textLength="5.8" lengthAdjust="spacingAndGlyphs">2</text>
<text class="cj" x="464.1" y="128.122" font-size="18.2609" textLength="26.3" lengthAdjust="spacingAndGlyphs">厨房</text>
<text class="cj" x="596.3" y="109.074" font-size="16.087" textLength="30.5" lengthAdjust="spacingAndGlyphs">公卫1</text>
<text class="lb" x="576.901" y="127.3" font-size="21.3992" textLength="50.284" lengthAdjust="spacingAndGlyphs">4.77m</text>
<text class="lb" x="629.7" y="118.4" font-size="11.2483" textLength="5.2" lengthAdjust="spacingAndGlyphs">2</text>
<text class="cj" x="707.9" y="174.213" font-size="16.9565" textLength="26.7" lengthAdjust="spacingAndGlyphs">客厅</text>
<text class="lb" x="687.401" y="194.6" font-size="21.3992" textLength="61.884" lengthAdjust="spacingAndGlyphs">32.03m</text>
<text class="lb" x="750.5" y="186.2" font-size="11.5226" textLength="5.8" lengthAdjust="spacingAndGlyphs">2</text>
<text class="lb" x="134.962" y="237.6" font-size="22.7709" textLength="52.3663" lengthAdjust="spacingAndGlyphs">3.68m</text>
<text class="lb" x="187.5" y="228" font-size="12.3457" textLength="6" lengthAdjust="spacingAndGlyphs">2</text>
<text class="cj" x="157.8" y="260.165" font-size="14.7826" textLength="17.9" lengthAdjust="spacingAndGlyphs">卫1</text>
<text class="cj" x="500" y="309.828" font-size="16.7391" textLength="28" lengthAdjust="spacingAndGlyphs">餐厅</text>
<text class="lb" x="479.685" y="327.5" font-size="21.9479" textLength="64.0169" lengthAdjust="spacingAndGlyphs">26.09m</text>
<text class="lb" x="544.5" y="319" font-size="12.3457" textLength="5" lengthAdjust="spacingAndGlyphs">2</text>
<text class="lb" x="702.385" y="338.5" font-size="21.9479" textLength="60.3169" lengthAdjust="spacingAndGlyphs">16.87m</text>
<text class="lb" x="763.5" y="329.5" font-size="12.3457" textLength="6" lengthAdjust="spacingAndGlyphs">2</text>
<text class="cj" x="722" y="362.359" font-size="16.3043" textLength="28.5" lengthAdjust="spacingAndGlyphs">堂屋</text>
<text class="lb" x="709.981" y="389" font-size="18.5185" textLength="49.6111" lengthAdjust="spacingAndGlyphs">±0.000</text>
<text class="lb" x="255.601" y="424.4" font-size="21.3992" textLength="61.084" lengthAdjust="spacingAndGlyphs">24.54m</text>
<text class="lb" x="318.2" y="415" font-size="10.9739" textLength="5.6" lengthAdjust="spacingAndGlyphs">2</text>
<text class="cj" x="276.5" y="450.582" font-size="15.9783" textLength="25.4" lengthAdjust="spacingAndGlyphs">出库</text>
<text class="lb" x="271.093" y="351.7" font-size="18.107" textLength="50.0864" lengthAdjust="spacingAndGlyphs">−0.300</text>
<text class="lb" x="638.385" y="497" font-size="21.9479" textLength="51.3169" lengthAdjust="spacingAndGlyphs">6.65m</text>
<text class="lb" x="690.5" y="488" font-size="12.3457" textLength="6" lengthAdjust="spacingAndGlyphs">2</text>
<text class="cj" x="690.5" y="499.707" font-size="18.4783" textLength="28.5" lengthAdjust="spacingAndGlyphs">门楼</text>
<text class="lb" x="767.485" y="494.4" font-size="18.3813" textLength="51.1029" lengthAdjust="spacingAndGlyphs">−0.050</text>
<text class="lb" x="488.685" y="517.6" font-size="18.3813" textLength="51.5029" lengthAdjust="spacingAndGlyphs">−0.500</text>
<text class="bk" x="355.3" y="231.2" font-size="14" textLength="12.5" lengthAdjust="spacingAndGlyphs">上</text>
</g>
<g id="titles">
<text class="bk2" x="29.5" y="676.8"><tspan font-size="25.5" textLength="50" lengthAdjust="spacingAndGlyphs">图号</tspan><tspan font-size="27" textLength="67" lengthAdjust="spacingAndGlyphs">A1022</tspan></text>
<text class="tt" x="403.8" y="683" font-size="36" textLength="189.5" lengthAdjust="spacingAndGlyphs">首层平面图</text>
<rect class="ul" x="404" y="691.2" width="190.5" height="2.6"/>
</g>
<g id="sliding">
<path class="t" d="M436.5 176.5 L505 176.5"/>
<path class="t2" d="M439 177 H474 M470 176 H505"/>
<path class="t" d="M447 177.8 H462 M455.5 178.6 H459.5 M481 175 H494.5 M484 174.3 H488"/>
</g>
</svg>
</body>
</html>
